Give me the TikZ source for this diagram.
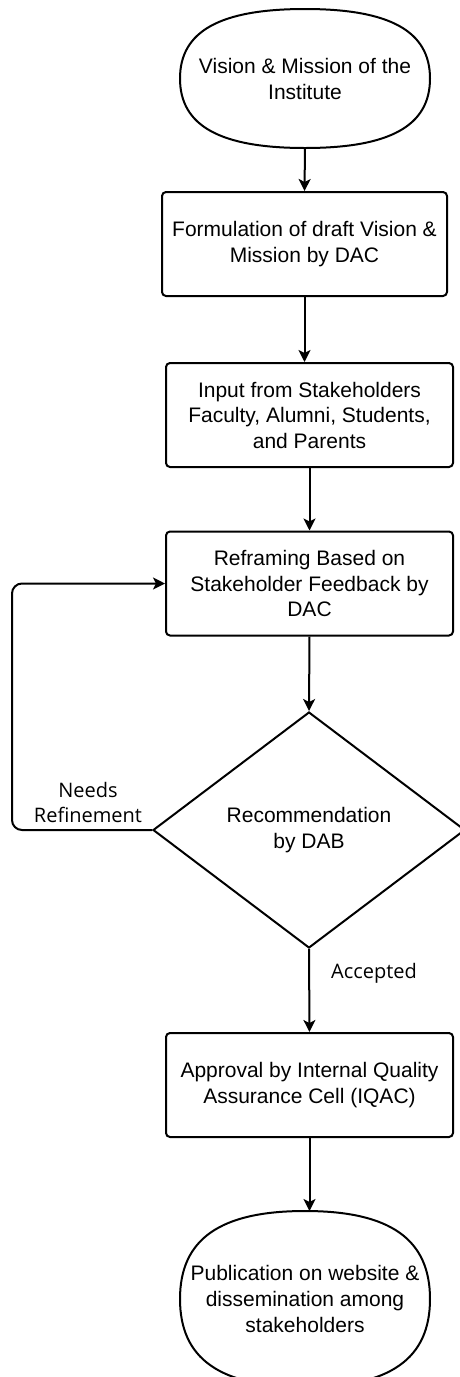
\documentclass[tikz,border=0pt]{standalone}
\usepackage{fontspec}
\setmainfont{Liberation Sans}
\newfontfamily\labelfont{Open Sans}
\usetikzlibrary{arrows.meta,calc,shapes.geometric}
\begin{document}
\begin{tikzpicture}[x=1pt,y=1pt,line width=2pt]
        \tikzstyle{terminal}=[rectangle,minimum width=248pt,inner sep=0pt,align=center,font=\fontsize{21}{26}\selectfont]
        \tikzstyle{process}=[draw,rectangle,rounded corners=4pt,minimum height=104pt,inner sep=0pt,align=center,font=\fontsize{21}{25.5}\selectfont]
        \tikzstyle{decision}=[draw,diamond,minimum width=312pt,minimum height=236pt,inner sep=0pt,align=center,font=\fontsize{21}{26}\selectfont]
        \tikzstyle{note}=[align=center,inner sep=0pt,font=\labelfont\fontsize{20}{25}\selectfont]
        \tikzstyle{arrow}=[-{Stealth[length=12pt,width=12pt,inset=3pt]}]
        \useasboundingbox (0,0) rectangle (460,-1377);
        \node[terminal,minimum height=137pt] (vision) at (305,-78.5) {Vision \& Mission of the\\Institute};
        \node[process,minimum width=285pt] (draft) at (304.5,-244) {Formulation of draft Vision \&\\Mission by DAC};
        \node[process,minimum width=287pt] (input) at (309.5,-415) {Input from Stakeholders\\Faculty, Alumni, Students,\\and Parents};
        \node[process,minimum width=287pt] (reframe) at (309.5,-583.5) {Reframing Based on\\Stakeholder Feedback by\\DAC};
        \node[decision] (dab) at (309,-830) {Recommendation\\by DAB};
        \node[process,minimum width=287pt] (iqac) at (309.5,-1085) {Approval by Internal Quality\\Assurance Cell (IQAC)};
        \node[terminal,minimum height=174pt] (publish) at (305,-1299) {Publication on website \&\\dissemination among\\stakeholders};
        \foreach \n in {vision,publish}
          \draw (\n.east) .. controls ($(\n.east)!0.68!(\n.north east)$) and ($(\n.north)!0.68!(\n.north east)$) .. (\n.north)
                .. controls ($(\n.north)!0.68!(\n.north west)$) and ($(\n.west)!0.68!(\n.north west)$) .. (\n.west)
                .. controls ($(\n.west)!0.68!(\n.south west)$) and ($(\n.south)!0.68!(\n.south west)$) .. (\n.south)
                .. controls ($(\n.south)!0.68!(\n.south east)$) and ($(\n.east)!0.68!(\n.south east)$) .. (\n.east) -- cycle;
        \node[note] (refine) at (88,-802) {Needs\\Refinement};
        \node[note] (accepted) at (374,-973) {Accepted};
        \coordinate (back) at (12,-830);
        \draw[arrow] (vision.south) -- (draft.north);
        \draw[arrow] (draft.south) -- (draft.south |- input.north);
        \draw[arrow] (input.south) -- (reframe.north);
        \draw[arrow] (reframe.south) -- (dab.north);
        \draw[arrow,rounded corners=10pt] (dab.west) -- (back) |- (reframe.west);
        \draw[arrow] (dab.south) -- (iqac.north);
        \draw[arrow] (iqac.south) -- (iqac.south |- publish.north);
\end{tikzpicture}
\end{document}
